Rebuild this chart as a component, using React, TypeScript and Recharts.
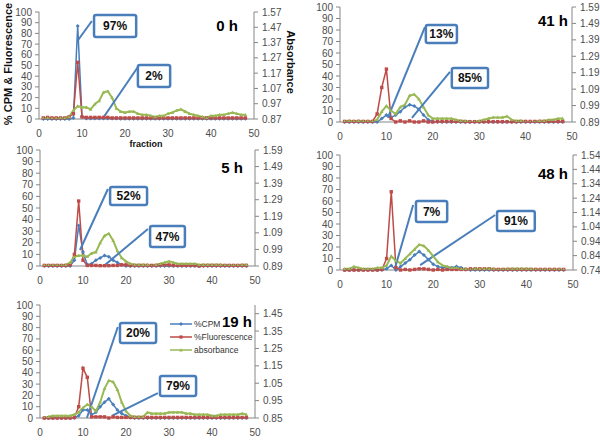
import { ComposedChart, Line, XAxis, YAxis, ReferenceLine, ReferenceArea } from 'recharts';

const fractions = [
  1, 2, 3, 4, 5, 6, 7, 8, 9, 10, 11, 12, 13, 14, 15, 16, 17, 18, 19, 20, 21, 22, 23, 24,
  25, 26, 27, 28, 29, 30, 31, 32, 33, 34, 35, 36, 37, 38, 39, 40, 41, 42, 43, 44, 45, 46, 47, 48,
];
const xTicks = [0, 10, 20, 30, 40, 50];
const leftTicks = [0, 10, 20, 30, 40, 50, 60, 70, 80, 90, 100];

// 0 h
const cpm0h = [
  0, 0, 0, 0, 0, 0, 0, 1, 87, 2, 0.5, 0.5, 0.5, 0.5, 0.5, 0.5, 0.5, 0.5, 0.3, 0.3, 0.3, 0.3, 0.3, 0.3,
  0.3, 0.3, 0.3, 0.3, 0.3, 0.3, 0.3, 0.3, 0.3, 0.3, 0.3, 0.3, 0.3, 0.3, 0.3, 0.3, 0.3, 0.3, 0.3, 0.3, 0.3, 0.3, 0.3, 0.3,
];
const fluor0h = [
  1, 1.5, 1, 1, 1, 1, 2, 5, 53, 2, 1.5, 1.5, 1.5, 1.5, 1.5, 1.5, 1, 1, 1, 1, 1, 1, 1, 1,
  1, 1, 1, 1, 1, 1, 1, 1, 1, 1, 1, 1, 1, 1, 1, 1, 1, 1, 1, 1, 1, 1, 1, 1,
];
const abs0h = [
  0.874, 0.877, 0.874, 0.874, 0.877, 0.877, 0.884, 0.926, 0.954, 0.947,
  0.947, 0.933, 0.968, 0.989, 1.045, 1.052, 1.01, 0.94, 0.919, 0.912,
  0.919, 0.919, 0.905, 0.898, 0.898, 0.891, 0.884, 0.891, 0.891, 0.905,
  0.912, 0.926, 0.933, 0.919, 0.905, 0.898, 0.891, 0.884, 0.877, 0.891,
  0.891, 0.898, 0.898, 0.905, 0.912, 0.905, 0.898, 0.898,
];

// 41 h
const cpm41h = [
  0, 0, 0, 0, 0, 0, 0, 0, 3, 6, 4, 6, 9, 13, 15, 14, 11, 6, 2, 0.5, 0, 0, 0, 0,
  0, 0, 0, 0, 0, 0, 0, 0, 0, 0, 0, 0, 0, 0, 0, 0, 0, 0, 0, 0, 0, 0, 0, 0,
];
const fluor41h = [
  0.5, 0.5, 0.5, 0.5, 0.5, 0.5, 0.5, 7, 30, 46, 3, 0, 1, 0, 1, 0, 0, 1, 0, 0, 0.5, 0.5, 0.5, 0.5,
  0.5, 0.5, 0.3, 0.3, 0.3, 0.3, 0.3, 0.3, 0.3, 0.3, 0.3, 0.3, 0.3, 0.3, 0.5, 0.5, 0.5, 0.5, 0.5, 0.5, 0.5, 0.5, 0.5, 0.5,
];
const abs41h = [
  0.894, 0.897, 0.894, 0.897, 0.894, 0.894, 0.894, 0.904, 0.953, 0.988,
  0.96, 0.939, 0.981, 0.995, 1.051, 1.058, 1.03, 0.981, 0.932, 0.911,
  0.911, 0.911, 0.911, 0.911, 0.904, 0.897, 0.897, 0.89, 0.89, 0.897,
  0.904, 0.911, 0.918, 0.918, 0.918, 0.925, 0.904, 0.897, 0.897, 0.89,
  0.89, 0.89, 0.897, 0.897, 0.904, 0.904, 0.911, 0.911,
];

// 5 h
const cpm5h = [
  0, 0, 0, 0, 0, 0, 0, 5, 35, 12, 1, 2, 5, 7, 9, 8, 5, 3, 1, 0, 0, 0, 0, 0,
  0, 0, 0, 0, 0, 0, 0, 0, 0, 0, 0, 0, 0, 0, 0, 0, 0, 0, 0, 0, 0, 0, 0, 0,
];
const fluor5h = [
  0.5, 0.5, 0.5, 0.5, 0.5, 0.5, 1, 10, 56, 5, 0.5, 0.5, 0.5, 0.3, 0.3, 0.3, 0.5, 0.5, 1, 1, 0.5, 0.5, 0.5, 0.5,
  0.5, 0.5, 0.5, 1, 1, 1, 0.5, 0.5, 0.5, 0.5, 0.5, 0.5, 0, 0.5, 0.5, 0.5, 0.5, 0.5, 0.5, 0.5, 0.5, 0.5, 0.5, 0.5,
];
const abs5h = [
  0.894, 0.894, 0.894, 0.894, 0.894, 0.897, 0.911, 0.946, 0.953, 0.953,
  0.946, 0.967, 0.974, 1.03, 1.072, 1.086, 1.044, 0.981, 0.939, 0.918,
  0.904, 0.897, 0.897, 0.897, 0.897, 0.89, 0.897, 0.904, 0.911, 0.918,
  0.911, 0.904, 0.904, 0.904, 0.904, 0.904, 0.897, 0.897, 0.897, 0.897,
  0.897, 0.897, 0.894, 0.894, 0.894, 0.894, 0.897, 0.897,
];

// 48 h
const cpm48h = [
  0, 0, 0, 0, 0, 0, 0, 0, 0, 1, 4, 0, 3, 6, 9, 13, 16, 13, 9, 5, 3, 2, 2, 2,
  3, 2, 0.5, 0, 0, 0, 0, 0, 0, 0, 0, 0, 0, 0, 0, 0, 0, 0, 0, 0, 0, 0, 0, 0,
];
const fluor48h = [
  0, 0, 0, 0, 0, 0, 0, 0, 0.5, 10, 68, 2, 0, 0.5, 0, 0.5, 1, 1, 0.5, 0, 0.5, 0, 0.5, 0.5,
  0.5, 0.5, 0.5, 1, 1, 1, 1, 1, 0.5, 0.5, 0.5, 0.5, 0.5, 0.5, 0.5, 0.5, 0.5, 0.5, 0.5, 0.5, 0.5, 0.5, 0.5, 0.5,
];
const abs48h = [
  0.748, 0.748, 0.764, 0.756, 0.748, 0.748, 0.748, 0.756, 0.756, 0.772,
  0.836, 0.804, 0.788, 0.82, 0.852, 0.884, 0.916, 0.908, 0.876, 0.836,
  0.796, 0.772, 0.764, 0.756, 0.756, 0.748, 0.748, 0.744, 0.748, 0.748,
  0.748, 0.748, 0.748, 0.744, 0.744, 0.748, 0.748, 0.748, 0.748, 0.748,
  0.748, 0.744, 0.744, 0.744, 0.744, 0.744, 0.744, 0.744,
];

// 19 h
const cpm19h = [
  0, 0, 0, 0, 0, 0, 0, 0, 2, 7, 7, 3, 5, 10, 14, 17, 12, 7, 4, 2, 0.5, 0, 0, 0,
  0, 0, 0, 0, 0, 0, 0, 0, 0, 0, 0, 0, 0, 0, 0, 0, 0, 0, 0, 0, 0, 0, 0, 0,
];
const fluor19h = [
  0, 0, 0, 0, 0, 0, 0, 0.5, 10, 44, 36, 1, 1, 1, 1, 0, 1, 0.5, 0.5, 0.5, 0.5, 0.5, 0.5, 0.5,
  0.5, 0.5, 0.5, 0.5, 0.5, 0.5, 0.5, 0.5, 0.5, 0.5, 0.5, 0.5, 0.5, 0.5, 0.5, 0.5, 0.5, 0.5, 0.5, 0.5, 0.5, 0.5, 0.5, 0.5,
];
const abs19h = [
  0.85, 0.857, 0.863, 0.863, 0.863, 0.863, 0.863, 0.87, 0.883, 0.909,
  0.928, 0.915, 0.889, 0.941, 1.019, 1.065, 1.058, 1.013, 0.941, 0.889,
  0.863, 0.857, 0.857, 0.857, 0.883, 0.876, 0.876, 0.876, 0.876, 0.883,
  0.883, 0.883, 0.883, 0.876, 0.876, 0.87, 0.87, 0.87, 0.87, 0.863,
  0.863, 0.87, 0.87, 0.87, 0.87, 0.87, 0.876, 0.87,
];

const rightTicks0h = [0.87, 0.97, 1.07, 1.17, 1.27, 1.37, 1.47, 1.57];
const rightTicks41h = [0.89, 0.99, 1.09, 1.19, 1.29, 1.39, 1.49, 1.59];
const rightTicks5h = [0.89, 0.99, 1.09, 1.19, 1.29, 1.39, 1.49, 1.59];
const rightTicks48h = [0.74, 0.84, 0.94, 1.04, 1.14, 1.24, 1.34, 1.44, 1.54];
const rightTicks19h = [0.85, 0.95, 1.05, 1.15, 1.25, 1.35, 1.45];

const BLUE = '#4a7ebb';
const RED = '#be4b48';
const GREEN = '#98b954';
const AXIS = '#868686';
const TICK = '#4d4d4d';

function rows(cpm: number[], fluor: number[], abs: number[]) {
  return fractions.map((f, i) => ({ fraction: f, cpm: cpm[i], fluor: fluor[i], abs: abs[i] }));
}

type Box = { x1: number; x2: number; y1: number; y2: number; text: string };
type Seg = { x1: number; y1: number; x2: number; y2: number };

interface PanelProps {
  left: number;
  top: number;
  width: number;
  height: number;
  mt: number;
  mb: number;
  lw: number;
  rw: number;
  data: { fraction: number; cpm: number; fluor: number; abs: number }[];
  rightDomain: [number, number];
  rightTicks: number[];
  boxes: Box[];
  segs: Seg[];
}

function DiamondDot(props: any) {
  const { cx, cy, index } = props;
  if (cx == null || cy == null) return null;
  return <path key={`d${index}`} d={`M${cx},${cy - 2}L${cx + 2},${cy}L${cx},${cy + 2}L${cx - 2},${cy}Z`} fill={BLUE} />;
}

function SquareDot(props: any) {
  const { cx, cy, index } = props;
  if (cx == null || cy == null) return null;
  return <rect key={`s${index}`} x={cx - 1.7} y={cy - 1.7} width={3.4} height={3.4} fill={RED} />;
}

function TriDot(props: any) {
  const { cx, cy, index } = props;
  if (cx == null || cy == null) return null;
  return <path key={`t${index}`} d={`M${cx},${cy - 1.8}L${cx + 1.8},${cy + 1.4}L${cx - 1.8},${cy + 1.4}Z`} fill={GREEN} />;
}

function Panel(p: PanelProps) {
  return (
    <div style={{ position: 'absolute', left: p.left, top: p.top }}>
      <ComposedChart
        width={p.width}
        height={p.height}
        data={p.data}
        margin={{ top: p.mt, right: 0, bottom: p.mb, left: 0 }}
      >
        <XAxis
          dataKey="fraction"
          type="number"
          domain={[0, 50]}
          ticks={xTicks}
          tickLine={false}
          axisLine={{ stroke: AXIS }}
          tick={{ fontSize: 10, fill: TICK }}
          tickSize={8}
          tickMargin={3}
          height={20}
        />
        <YAxis
          yAxisId="left"
          domain={[0, 100]}
          ticks={leftTicks}
          width={p.lw}
          axisLine={{ stroke: AXIS }}
          tickLine={{ stroke: AXIS }}
          tickSize={4}
          tickMargin={3}
          tick={{ fontSize: 10, fill: TICK }}
          interval={0}
        />
        <YAxis
          yAxisId="right"
          orientation="right"
          domain={p.rightDomain}
          ticks={p.rightTicks}
          width={p.rw}
          allowDataOverflow
          axisLine={{ stroke: AXIS }}
          tickLine={{ stroke: AXIS }}
          tickSize={4}
          tickMargin={4}
          tick={{ fontSize: 10, fill: TICK }}
          tickFormatter={(v: number) => v.toFixed(2)}
          interval={0}
        />
        <Line yAxisId="left" dataKey="cpm" name="%CPM" stroke={BLUE} strokeWidth={1.5} dot={DiamondDot} isAnimationActive={false} />
        <Line yAxisId="left" dataKey="fluor" name="%Fluorescence" stroke={RED} strokeWidth={1.5} dot={SquareDot} isAnimationActive={false} />
        <Line yAxisId="right" dataKey="abs" name="absorbance" stroke={GREEN} strokeWidth={2} dot={TriDot} isAnimationActive={false} />
        {p.segs.map((s, i) => (
          <ReferenceLine
            key={`seg${i}`}
            yAxisId="left"
            segment={[{ x: s.x1, y: s.y1 }, { x: s.x2, y: s.y2 }]}
            stroke={BLUE}
            strokeWidth={2}
          />
        ))}
        {p.boxes.map((b, i) => (
          <ReferenceArea
            key={`box${i}`}
            yAxisId="left"
            x1={b.x1}
            x2={b.x2}
            y1={b.y1}
            y2={b.y2}
            fill="#ffffff"
            fillOpacity={1}
            stroke={BLUE}
            strokeWidth={2.5}
            radius={2}
            label={{ value: b.text, position: 'center', fill: '#111', fontSize: 12, fontWeight: 'bold' }}
          />
        ))}
      </ComposedChart>
    </div>
  );
}

function Title({ x, y, text }: { x: number; y: number; text: string }) {
  return (
    <div
      style={{
        position: 'absolute',
        left: x,
        top: y,
        transform: 'translate(-50%, -50%)',
        fontSize: 15,
        fontWeight: 'bold',
        color: '#000',
        whiteSpace: 'nowrap',
      }}
    >
      {text}
    </div>
  );
}

const legendItems = [
  { name: '%CPM', color: BLUE, marker: 'diamond' },
  { name: '%Fluorescence', color: RED, marker: 'square' },
  { name: 'absorbance', color: GREEN, marker: 'tri' },
];

export default function App() {
  return (
    <div
      style={{
        position: 'absolute',
        left: 0,
        top: 0,
        width: 600,
        height: 441,
        background: '#fff',
        fontFamily: 'Arial, "Liberation Sans", sans-serif',
        overflow: 'hidden',
      }}
    >
      <Panel
        left={0}
        top={0}
        width={300}
        height={150}
        mt={12}
        mb={11}
        lw={39}
        rw={46}
        data={rows(cpm0h, fluor0h, abs0h)}
        rightDomain={[0.87, 1.57]}
        rightTicks={rightTicks0h}
        boxes={[
          { x1: 12.8, x2: 22.6, y1: 76.6, y2: 97.2, text: '97%' },
          { x1: 23, x2: 30.5, y1: 29.9, y2: 50.5, text: '2%' },
        ]}
        segs={[
          { x1: 9.1, y1: 73.8, x2: 12.3, y2: 91.6 },
          { x1: 14.9, y1: 0.9, x2: 23, y2: 48.6 },
        ]}
      />
      <Panel
        left={300}
        top={0}
        width={300}
        height={145}
        mt={7}
        mb={3}
        lw={40}
        rw={28}
        data={rows(cpm41h, fluor41h, abs41h)}
        rightDomain={[0.89, 1.59]}
        rightTicks={rightTicks41h}
        boxes={[
          { x1: 18.5, x2: 25.2, y1: 68.7, y2: 84.3, text: '13%' },
          { x1: 24.1, x2: 31.9, y1: 29.6, y2: 47, text: '85%' },
        ]}
        segs={[
          { x1: 10.3, y1: 3.5, x2: 18.3, y2: 82.6 },
          { x1: 15.5, y1: 3.5, x2: 23.7, y2: 43.5 },
        ]}
      />
      <Panel
        left={0}
        top={140}
        width={300}
        height={150}
        mt={10}
        mb={4}
        lw={40}
        rw={45}
        data={rows(cpm5h, fluor5h, abs5h)}
        rightDomain={[0.89, 1.59]}
        rightTicks={rightTicks5h}
        boxes={[
          { x1: 16.3, x2: 24.9, y1: 52.6, y2: 68.1, text: '52%' },
          { x1: 25.6, x2: 33.7, y1: 16.4, y2: 34.5, text: '47%' },
        ]}
        segs={[
          { x1: 9.3, y1: 13.8, x2: 15.8, y2: 66.4 },
          { x1: 15.1, y1: 0.9, x2: 25.1, y2: 31.9 },
        ]}
      />
      <Panel
        left={300}
        top={140}
        width={300}
        height={150}
        mt={15}
        mb={0}
        lw={40}
        rw={27}
        data={rows(cpm48h, fluor48h, abs48h)}
        rightDomain={[0.74, 1.54]}
        rightTicks={rightTicks48h}
        boxes={[
          { x1: 16.3, x2: 23, y1: 41.7, y2: 60, text: '7%' },
          { x1: 33.7, x2: 41.8, y1: 33.9, y2: 51.3, text: '91%' },
        ]}
        segs={[
          { x1: 11.8, y1: 1.7, x2: 15.7, y2: 56.5 },
          { x1: 17.2, y1: 4.3, x2: 33.3, y2: 47.8 },
        ]}
      />
      <Panel
        left={0}
        top={290}
        width={300}
        height={151}
        mt={15}
        mb={3}
        lw={40}
        rw={45}
        data={rows(cpm19h, fluor19h, abs19h)}
        rightDomain={[0.85, 1.5]}
        rightTicks={rightTicks19h}
        boxes={[
          { x1: 18.6, x2: 27, y1: 66.4, y2: 84, text: '20%' },
          { x1: 27.9, x2: 36.3, y1: 19.5, y2: 37.2, text: '79%' },
        ]}
        segs={[
          { x1: 10.9, y1: 0, x2: 18.1, y2: 80.5 },
          { x1: 16.7, y1: 1.8, x2: 27.4, y2: 22.1 },
        ]}
      />

      <Title x={227} y={25} text="0 h" />
      <Title x={553} y={20} text="41 h" />
      <Title x={232} y={167} text="5 h" />
      <Title x={553} y={173} text="48 h" />
      <Title x={237} y={321} text="19 h" />

      <div
        style={{
          position: 'absolute',
          left: 8,
          top: 64,
          transform: 'translate(-50%, -50%) rotate(-90deg)',
          fontSize: 11,
          fontWeight: 'bold',
          whiteSpace: 'nowrap',
          color: '#111',
        }}
      >
        % CPM &amp; Fluorescence
      </div>
      <div
        style={{
          position: 'absolute',
          left: 291,
          top: 62,
          transform: 'translate(-50%, -50%) rotate(90deg)',
          fontSize: 11,
          fontWeight: 'bold',
          whiteSpace: 'nowrap',
          color: '#111',
        }}
      >
        Absorbance
      </div>
      <div
        style={{
          position: 'absolute',
          left: 146,
          top: 144,
          transform: 'translate(-50%, -50%)',
          fontSize: 9,
          fontWeight: 'bold',
          color: '#111',
        }}
      >
        fraction
      </div>

      <div style={{ position: 'absolute', left: 170, top: 317, fontSize: 8.5, color: '#333' }}>
        {legendItems.map((it) => (
          <div key={it.name} style={{ display: 'flex', alignItems: 'center', height: 13 }}>
            <svg width={22} height={8} style={{ marginRight: 2 }}>
              <line x1={0} y1={4} x2={22} y2={4} stroke={it.color} strokeWidth={1.5} />
              {it.marker === 'diamond' && <path d="M11,2L13,4L11,6L9,4Z" fill={it.color} />}
              {it.marker === 'square' && <rect x={9.4} y={2.4} width={3.2} height={3.2} fill={it.color} />}
              {it.marker === 'tri' && <path d="M11,2.2L12.8,5.4L9.2,5.4Z" fill={it.color} />}
            </svg>
            <span>{it.name}</span>
          </div>
        ))}
      </div>
    </div>
  );
}
